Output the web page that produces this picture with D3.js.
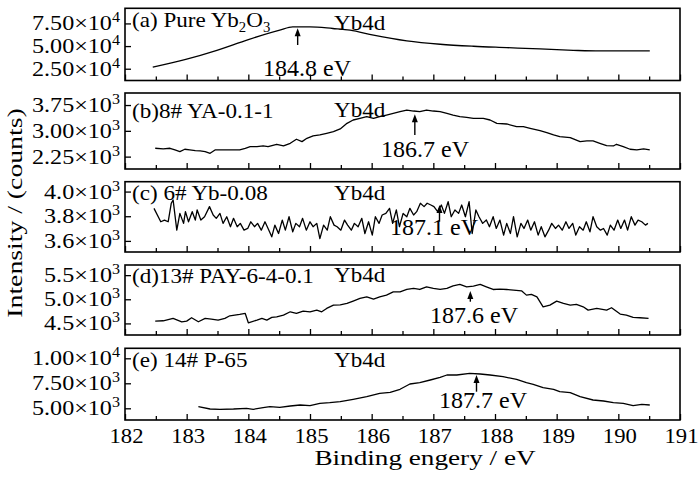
<!DOCTYPE html>
<html><head><meta charset="utf-8">
<script src="https://cdn.jsdelivr.net/npm/d3@7"></script>
<style>
body{margin:0;background:#fff}
</style>
</head><body><script>
// ---------------- data ----------------
const xTickLabels = [182,183,184,185,186,187,188,189,190,191];
const xHalfTicks = [182.5,183.5,184.5,185.5,186.5,187.5,188.5,189.5,190.5];
const panelLabels = ["(a) Pure Yb_2O_3","(b)8# YA-0.1-1","(c) 6# Yb-0.08","(d)13# PAY-6-4-0.1","(e) 14# P-65"];
const peakName = "Yb4d";
const peakEnergy = [184.8,186.7,187.1,187.6,187.7];
const yDomains = [[12000,91700],[1890,4100],[3510,4080],[4260,5710],[3830,11000]];
const yTicks = [[25000,50000,75000],[2250,3000,3750],[3600,3800,4000],[4500,5000,5500],[5000,7500,10000]];
const yTickDecimals = [2,2,1,1,2];

const aE = [182.45,182.97,183.49,184.00,184.51,184.72,185.00,185.37,185.65,186.03,186.57,187.11,187.65,188.19,188.73,189.27,189.70,190.51];
const aI = [26800,35000,45300,57200,67600,71200,71200,69400,67600,62000,55700,52000,49800,48300,46800,45300,44600,44600];

const bE = [182.49,182.62,182.73,182.81,182.89,182.97,183.05,183.14,183.22,183.30,183.38,183.46,183.54,183.70,183.86,183.95,184.03,184.14,184.24,184.32,184.46,184.57,184.68,184.78,184.87,184.95,185.05,185.16,185.27,185.38,185.49,185.60,185.70,185.81,185.92,186.03,186.13,186.24,186.35,186.46,186.57,186.68,186.78,186.89,187.00,187.11,187.22,187.32,187.43,187.54,187.65,187.81,187.92,188.03,188.19,188.35,188.46,188.57,188.73,188.84,188.95,189.05,189.22,189.38,189.49,189.59,189.70,189.81,189.92,189.97,190.08,190.19,190.30,190.41,190.51];
const bI = [2493,2473,2493,2444,2396,2464,2444,2425,2415,2396,2347,2444,2444,2444,2444,2493,2541,2541,2560,2541,2609,2560,2638,2755,2686,2783,2851,2880,2928,2977,3054,3218,3315,3363,3412,3363,3412,3460,3508,3557,3605,3576,3557,3605,3576,3557,3508,3460,3412,3392,3363,3363,3315,3218,3199,3122,3122,3073,3005,2947,2880,2831,2802,2686,2705,2705,2638,2570,2560,2609,2541,2464,2444,2473,2444];

const cE = [182.47,182.58,182.64,182.70,182.75,182.78,182.84,182.89,182.95,182.98,183.03,183.09,183.14,183.17,183.23,183.29,183.37,183.43,183.48,183.54,183.59,183.65,183.71,183.76,183.82,183.87,183.93,183.99,184.04,184.10,184.15,184.21,184.27,184.32,184.38,184.43,184.49,184.55,184.60,184.66,184.72,184.77,184.83,184.88,184.94,185.00,185.05,185.11,185.16,185.22,185.28,185.33,185.39,185.44,185.50,185.56,185.61,185.67,185.72,185.78,185.84,185.89,185.95,186.01,186.06,186.12,186.17,186.23,186.29,186.34,186.40,186.45,186.51,186.57,186.62,186.68,186.73,186.79,186.85,186.90,186.96,187.01,187.07,187.13,187.18,187.24,187.29,187.35,187.41,187.46,187.52,187.58,187.63,187.69,187.74,187.80,187.86,187.91,187.97,188.02,188.08,188.14,188.19,188.25,188.30,188.36,188.42,188.47,188.53,188.58,188.64,188.70,188.75,188.81,188.87,188.92,188.98,189.03,189.09,189.15,189.20,189.26,189.31,189.37,189.43,189.48,189.54,189.59,189.65,189.71,189.76,189.82,189.87,189.93,189.99,190.04,190.10,190.15,190.21,190.27,190.32,190.38,190.44,190.48];
const cI = [3864,3755,3769,3755,3905,3932,3687,3823,3742,3837,3755,3837,3769,3851,3769,3796,3878,3810,3783,3823,3742,3796,3715,3783,3715,3742,3687,3701,3755,3715,3742,3687,3755,3701,3633,3728,3660,3769,3687,3796,3674,3742,3715,3783,3687,3755,3715,3742,3619,3728,3687,3796,3728,3715,3687,3769,3728,3687,3742,3715,3783,3660,3755,3647,3796,3742,3810,3823,3864,3742,3851,3715,3823,3796,3864,3810,3837,3905,3878,3905,3891,3878,3837,3891,3823,3918,3796,3851,3823,3891,3796,3918,3660,3851,3796,3742,3769,3715,3796,3701,3769,3647,3742,3660,3796,3633,3742,3701,3769,3687,3755,3647,3715,3633,3687,3742,3701,3728,3687,3755,3701,3742,3647,3715,3687,3755,3674,3796,3715,3687,3701,3647,3728,3687,3769,3701,3769,3687,3796,3728,3769,3755,3728,3742];

const dE = [182.49,182.62,182.78,182.92,183.00,183.08,183.19,183.30,183.40,183.51,183.62,183.70,183.86,183.95,184.00,184.14,184.22,184.30,184.38,184.46,184.57,184.68,184.78,184.89,185.00,185.11,185.19,185.27,185.38,185.49,185.60,185.70,185.81,185.92,186.03,186.13,186.24,186.35,186.46,186.57,186.68,186.78,186.89,187.00,187.11,187.22,187.32,187.43,187.54,187.65,187.76,187.86,187.97,188.08,188.19,188.30,188.43,188.51,188.59,188.68,188.78,188.89,189.00,189.11,189.22,189.32,189.43,189.51,189.65,189.81,189.89,190.03,190.13,190.24,190.35,190.49];
const dI = [4548,4555,4603,4534,4548,4617,4534,4603,4589,4568,4603,4658,4686,4706,4513,4568,4603,4568,4624,4637,4672,4741,4706,4755,4741,4775,4741,4810,4879,4885,4913,4962,5017,5051,5003,5051,5086,5155,5155,5203,5224,5203,5258,5224,5203,5224,5279,5307,5258,5272,5307,5258,5203,5210,5203,5189,5176,5086,5100,5051,4844,4879,4962,4913,4879,4893,4844,4775,4810,4775,4824,4693,4672,4624,4617,4603];

const eE = [183.19,183.38,183.54,183.76,183.97,184.08,184.24,184.35,184.51,184.68,184.84,185.00,185.16,185.32,185.49,185.70,185.92,186.13,186.30,186.46,186.62,186.78,186.95,187.11,187.22,187.38,187.59,187.76,187.92,188.13,188.35,188.51,188.62,188.78,188.95,189.05,189.22,189.38,189.59,189.76,189.92,190.08,190.24,190.38,190.51];
const eI = [5160,4930,4900,4930,5000,4900,5070,5160,5100,5230,5330,5260,5500,5560,5660,5900,6160,6500,6600,6900,7430,7560,7830,8100,8330,8330,8500,8430,8330,8160,7900,7560,7400,7060,6900,6660,6560,6160,5830,5730,5560,5500,5260,5400,5330];

const xTitle = "Binding engery / eV";
const yTitle = "Intensity / (counts)";

// ---------------- layout ----------------
const W = 700, H = 479;
const X0 = 125, X1 = 680;
const FONT = '"Liberation Serif", "Times New Roman", Times, serif';
const tops =    [8.3, 93, 181.7, 265, 348.3];
const bottoms = [80.5, 169, 252, 335, 420];
const labelBase = [26.7, 118, 200, 283, 367];
const peakNameBase = [30, 116.7, 200, 281.7, 366.7];
const arrowTip = [28.3, 114.3, 205, 291, 375];
const arrowTail = [45, 135, 221.7, 301.7, 391.7];
const evCx = [307, 425, 434, 474, 483];
const evBase = [75.5, 156.7, 235, 323.3, 408.3];

const energies = [aE, bE, cE, dE, eE];
const intens = [aI, bI, cI, dI, eI];
const curves = [d3.curveMonotoneX, d3.curveLinear, d3.curveLinear, d3.curveLinear, d3.curveLinear];

const svg = d3.select("body").append("svg").attr("width", W).attr("height", H);
svg.append("rect").attr("width", W).attr("height", H).attr("fill", "#fff");

const x = d3.scaleLinear().domain([xTickLabels[0], xTickLabels[xTickLabels.length-1]]).range([X0, X1]);

function stext(parent, px, py, size, sx, anchor, rot) {
  return parent.append("text")
    .attr("transform", `translate(${px},${py})` + (rot ? ` rotate(${rot})` : "") + ` scale(${sx},1)`)
    .attr("text-anchor", anchor || "start")
    .style("font-family", FONT)
    .style("font-size", size + "px")
    .attr("fill", "#000");
}

function supNum(v, dec) {
  const e = Math.floor(Math.log10(v) + 1e-9);
  return {m: (v / Math.pow(10, e)).toFixed(dec), e: e};
}

for (let p = 0; p < 5; p++) {
  const y = d3.scaleLinear().domain(yDomains[p]).range([bottoms[p], tops[p]]);
  const g = svg.append("g");

  const axB = g.append("g").attr("transform", `translate(0,${bottoms[p]})`)
    .call(d3.axisBottom(x).tickValues(xTickLabels).tickSize(-6).tickSizeOuter(0).tickFormat(""));
  const axB2 = g.append("g").attr("transform", `translate(0,${bottoms[p]})`)
    .call(d3.axisBottom(x).tickValues(xHalfTicks).tickSize(-4).tickSizeOuter(0).tickFormat(""));
  const axL = g.append("g").attr("transform", `translate(${X0},0)`)
    .call(d3.axisLeft(y).tickValues(yTicks[p]).tickSize(-6).tickSizeOuter(0).tickFormat(""));
  [axB, axB2, axL].forEach(a => {
    a.select(".domain").remove();
    a.selectAll("line").attr("stroke", "#000").attr("stroke-width", 1.3);
  });

  g.append("rect").attr("x", X0).attr("y", tops[p]).attr("width", X1 - X0).attr("height", bottoms[p] - tops[p])
    .attr("fill", "none").attr("stroke", "#000").attr("stroke-width", 1.6);

  yTicks[p].forEach(v => {
    const s = supNum(v, yTickDecimals[p]);
    const t = stext(g, 120, y(v) + 7, 21, 1.15, "end");
    t.append("tspan").text(s.m + "×10");
    t.append("tspan").attr("dy", -8).style("font-size", "14px").text(s.e);
  });

  const pts = energies[p].map((e, i) => [e, intens[p][i]]);
  g.append("path").datum(pts)
    .attr("d", d3.line().x(d => x(d[0])).y(d => y(d[1])).curve(curves[p]))
    .attr("fill", "none").attr("stroke", "#000").attr("stroke-width", 1.3).attr("stroke-linejoin", "round");

  const lt = stext(g, 132, labelBase[p], 22, 1.05, "start");
  const parts = panelLabels[p].split(/(_\d)/).filter(s => s.length);
  let sub = false;
  parts.forEach(s => {
    if (s[0] === "_") {
      lt.append("tspan").attr("dy", 5).style("font-size", "14px").text(s.slice(1));
      sub = true;
    } else {
      lt.append("tspan").attr("dy", sub ? -5 : 0).text(s);
      sub = false;
    }
  });

  stext(g, 334, peakNameBase[p], 22, 1.05, "start").text(peakName);

  const ax = x(peakEnergy[p]);
  g.append("line").attr("x1", ax).attr("x2", ax).attr("y1", arrowTail[p]).attr("y2", arrowTip[p] + 6)
    .attr("stroke", "#000").attr("stroke-width", 1.4);
  g.append("path").attr("d", `M${ax},${arrowTip[p]} L${ax-3},${arrowTip[p]+8} L${ax+3},${arrowTip[p]+8} Z`).attr("fill", "#000");

  stext(g, evCx[p], evBase[p], 24, 1.0, "middle").text(peakEnergy[p].toFixed(1) + " eV");

  if (p === 4) {
    xTickLabels.forEach(v => {
      stext(g, x(v) + 1.5, 443, 21, 1.08, "middle").text(v);
    });
  }
}

stext(svg, 425, 465, 20, 1.36, "middle").text(xTitle);
stext(svg, 22, 213, 22, 1.26, "middle", -90).text(yTitle);
</script></body></html>
